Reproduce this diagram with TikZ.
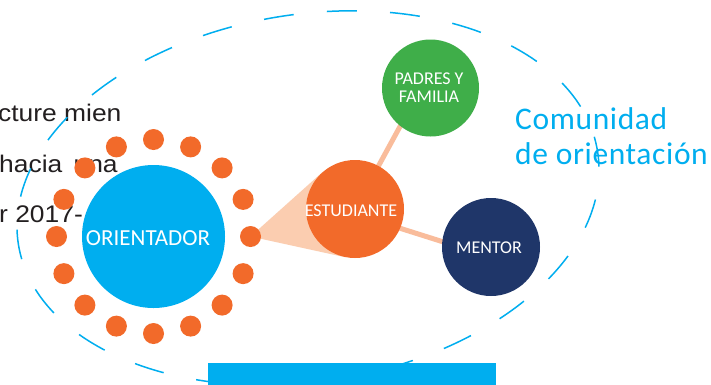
\documentclass[tikz,border=0pt]{standalone}
\usepackage{fontspec}
\setmainfont{Carlito}
\newfontfamily\bodyfont[FakeStretch=1.1]{Liberation Sans}
\newfontfamily\commfont[LetterSpace=2]{Carlito}
\usetikzlibrary{calc}
\definecolor{cyanb}{HTML}{00AEEF}
\definecolor{orng}{HTML}{F26A2A}
\definecolor{grn}{HTML}{3FAE49}
\definecolor{navy}{HTML}{1F3669}
\definecolor{peach}{HTML}{FBCDB0}
\definecolor{peachline}{HTML}{F9BC9B}
\definecolor{ink}{HTML}{231F20}
\pgfdeclarelayer{back}
\pgfsetlayers{back,main}
\begin{document}
\begin{tikzpicture}[x=1pt,y=-1pt,
  bgtext/.style={anchor=base west, inner sep=0, text=ink, font=\bodyfont\fontsize{24}{24}\selectfont},
  bubble/.style={circle, inner sep=0, minimum size=#1},
  label18/.style={text=white, inner sep=0, align=center, font=\fontsize{18}{18}\selectfont},
  dotc/.style={circle, fill=orng, inner sep=0, minimum size=21pt},
  link/.style={draw=peachline, line width=5pt},
  comm/.style={anchor=base west, inner sep=0, text=cyanb, font=\commfont\fontsize{31.5}{32}\selectfont}
]
\useasboundingbox (0,0) rectangle (711,384);
\begin{pgfonlayer}{back}
  \fill[white] (0,0) rectangle (711,384);
  \node[bgtext] (t1) at (-2,121) {cture mien};
  \node[bgtext] (t2) at (-1,172) {hacia\hspace{4pt} una};
  \node[bgtext] (t3) at (-1,222) {r 2017-};
  \draw[cyanb, line width=1.5pt, dash pattern=on 30pt off 33.25pt, dash phase=15pt,
        shift={(308,198)}, rotate=9.15] (0,0) ellipse [x radius=293.3pt, y radius=183.6pt];
\end{pgfonlayer}
% main bubbles
\node[bubble=143pt, fill=cyanb] (ori) at (153.5,236.5) {};
\node[text=white, inner sep=0, font=\fontsize{23}{23}\selectfont] (orit) at (148,238) {ORIENTADOR};
\foreach \k in {0,...,15} {
  \node[dotc] (d\k) at ($(ori.center)+(\k*22.5:97pt)$) {};
}
\node[bubble=98pt, fill=orng] (est) at (355,209) {};
\node[label18] (estt) at (351,211) {ESTUDIANTE};
\node[bubble=97pt, fill=grn] (pad) at (430.5,88) {};
\node[label18] (padt) at (429,88) {PADRES Y\\FAMILIA};
\node[bubble=98pt, fill=navy] (men) at (491,247) {};
\node[label18] (ment) at (489,248) {MENTOR};
\begin{pgfonlayer}{back}
  \fill[peach] (d0.center) -- (tangent cs:node=est,point={(d0.center)},solution=1)
     -- (est.center) -- (tangent cs:node=est,point={(d0.center)},solution=2) -- cycle;
  \draw[link] (est.center) -- ([xshift=-9.5pt]pad.center);
  \draw[link] ([yshift=-5pt]est.center) -- ([yshift=-10pt]men.center);
\end{pgfonlayer}
\fill[cyanb] (208,363) rectangle (496,390);
\node[comm] (c1) at (515,129.3) {Comunidad};
\node[comm] (c2) at (515,164) {de orientación};
\end{tikzpicture}
\end{document}
